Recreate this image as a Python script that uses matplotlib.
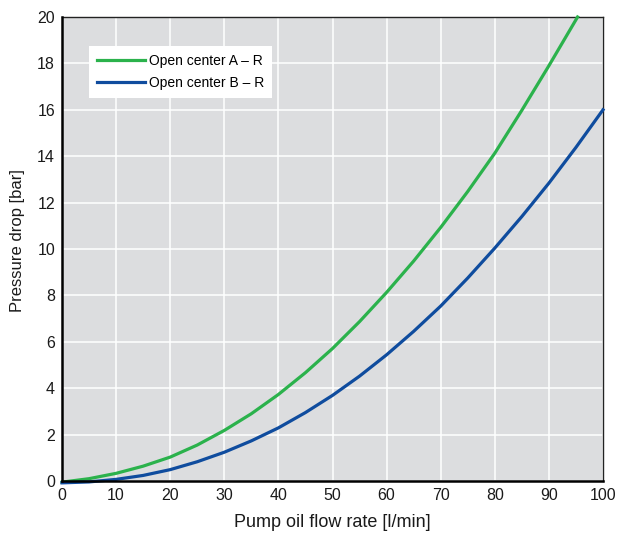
import matplotlib
matplotlib.use("Agg")
import matplotlib.pyplot as plt

plt.rcParams['font.family'] = ['Liberation Sans', 'DejaVu Sans']

# Data
flow_a = [0, 5, 10, 15, 20, 25, 30, 35, 40, 45, 50, 55, 60, 65, 70, 75, 80, 85, 90, 95.3]
dp_a = [-0.05, 0.10, 0.33, 0.64, 1.03, 1.55, 2.18, 2.90, 3.73, 4.67, 5.71, 6.87, 8.13,
        9.48, 10.93, 12.48, 14.13, 15.98, 17.90, 20.0]
flow_b = [0, 5, 10, 15, 20, 25, 30, 35, 40, 45, 50, 55, 60, 65, 70, 75, 80, 85, 90, 95, 100]
dp_b = [-0.08, -0.04, 0.07, 0.24, 0.49, 0.83, 1.24, 1.73, 2.29, 2.95, 3.69, 4.52, 5.44,
        6.45, 7.54, 8.75, 10.04, 11.40, 12.84, 14.38, 16.0]
labels = ["Open center A \u2013 R", "Open center B \u2013 R"]
colors = ["#2bb24c", "#0f4c9e"]
x_ticks = [0, 10, 20, 30, 40, 50, 60, 70, 80, 90, 100]
y_ticks = [0, 2, 4, 6, 8, 10, 12, 14, 16, 18, 20]

fig = plt.figure(figsize=(6.18, 5.33), dpi=100)
ax = fig.add_axes([62/618, 52/533, 541/618, 464/533])
ax.set_facecolor("#dcdddf")

ax.plot(flow_a, dp_a, color=colors[0], lw=2.3, label=labels[0], clip_on=False,
        zorder=3, solid_joinstyle="round")
ax.plot(flow_b, dp_b, color=colors[1], lw=2.3, label=labels[1], clip_on=False,
        zorder=3, solid_joinstyle="round")

ax.set_xlim(0, 100)
ax.set_ylim(0, 20)
ax.set_xticks(x_ticks)
ax.set_yticks(y_ticks)
ax.grid(True, color="white", lw=1.1)
ax.set_axisbelow(True)
ax.tick_params(length=0, labelsize=11.5, pad=5, colors="#1a1a1a")

for side in ["left", "bottom"]:
    ax.spines[side].set_linewidth(1.8)
    ax.spines[side].set_color("black")
    ax.spines[side].set_zorder(4)
for side in ["top", "right"]:
    ax.spines[side].set_linewidth(1.0)
    ax.spines[side].set_color("#222222")

ax.set_xlabel("Pump oil flow rate [l/min]", fontsize=13, color="#1a1a1a", labelpad=8)
ax.set_ylabel("Pressure drop [bar]", fontsize=12, color="#1a1a1a")
ax.yaxis.set_label_coords(-0.068, 0.519)

leg = ax.legend(loc="upper left", bbox_to_anchor=(0.05, 0.9375), frameon=True,
                fancybox=False, framealpha=1, edgecolor="white", facecolor="white",
                handlelength=3.5, handletextpad=0.3, borderpad=0.55, labelspacing=0.62,
                borderaxespad=0, prop={'size': 10})
leg.get_frame().set_linewidth(0)

fig.savefig("out.png", dpi=100)
